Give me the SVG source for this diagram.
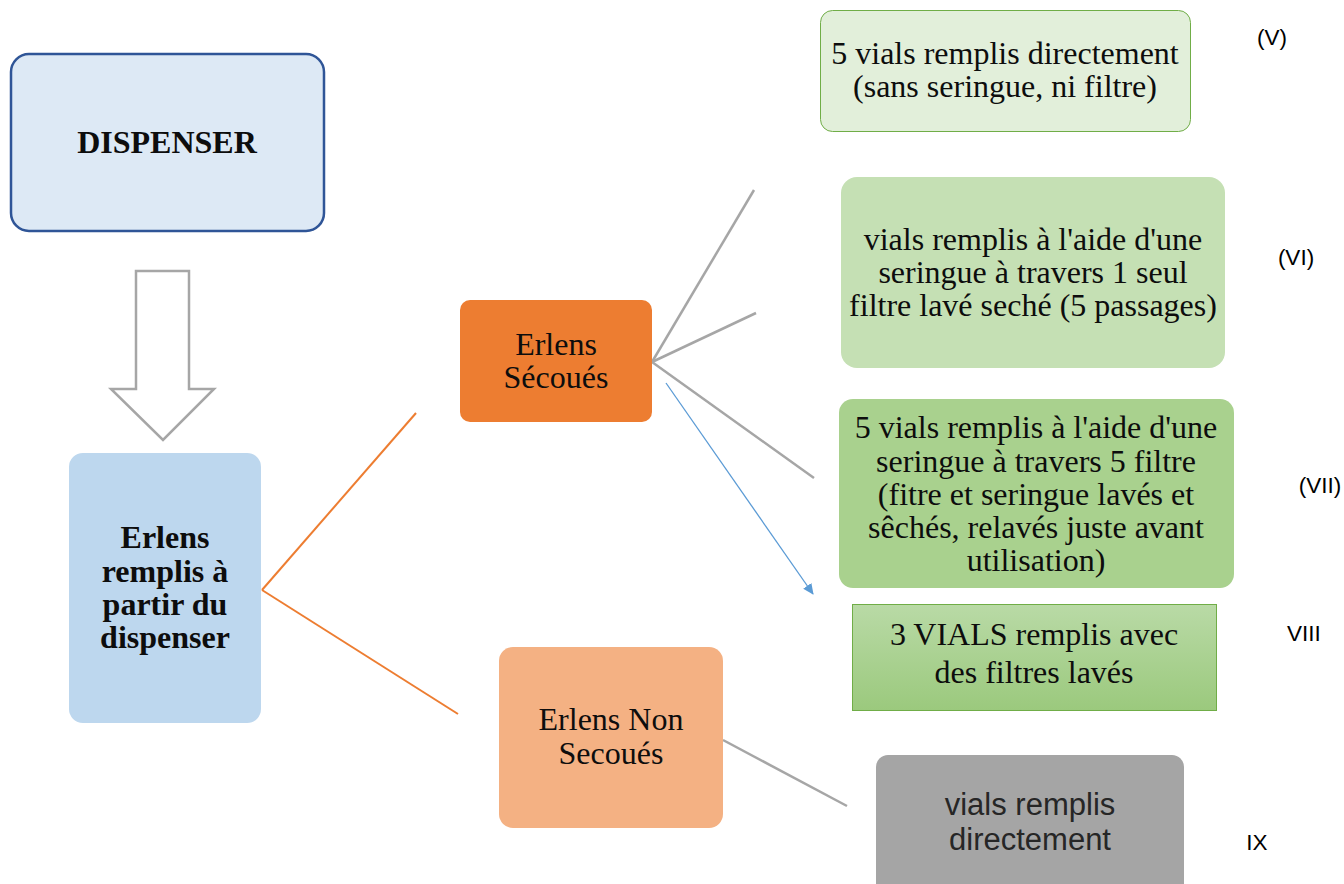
<svg xmlns="http://www.w3.org/2000/svg" width="1344" height="884" viewBox="0 0 1344 884">
<style>
.t{font-family:"Liberation Serif","Times New Roman",serif;font-size:32px;fill:#0d0d0d;text-anchor:middle}
.b{font-weight:bold}
.s{font-family:"Liberation Sans",Arial,sans-serif;text-anchor:middle}
.lab{font-family:"Liberation Sans",Arial,sans-serif;font-size:22.5px;fill:#000;text-anchor:middle}
.g{stroke:#a6a6a6;stroke-width:2.5;fill:none}
.o{stroke:#ed7d31;stroke-width:2;fill:none}
</style>
<defs>
<linearGradient id="gr8" x1="0" y1="0" x2="0" y2="1">
<stop offset="0" stop-color="#b9daa6"/>
<stop offset="1" stop-color="#9bc97d"/>
</linearGradient>
<marker id="ab" markerWidth="12" markerHeight="12" refX="10" refY="5" orient="auto" markerUnits="userSpaceOnUse">
<path d="M0,0 L11,5 L0,10 z" fill="#5b9bd5"/>
</marker>
</defs>
<rect width="1344" height="884" fill="#fff"/>
<g id="connectors">
<path d="M136,271 H189 V389 H214 L163,440 L111,389 H136 Z" fill="#fff" stroke="#a6a6a6" stroke-width="2.5"/>
<line class="o" x1="262" y1="590" x2="416" y2="413"/>
<line class="o" x1="262" y1="590" x2="458" y2="714"/>
<line class="g" x1="652" y1="362" x2="754" y2="190"/>
<line class="g" x1="652" y1="362" x2="756" y2="313"/>
<line class="g" x1="652" y1="362" x2="814" y2="478"/>
<line x1="666" y1="383" x2="813" y2="594" stroke="#5b9bd5" stroke-width="1.3" marker-end="url(#ab)"/>
<line class="g" x1="723" y1="740" x2="847" y2="806"/>
</g>
<g id="dispenser">
<rect x="11" y="54" width="313" height="177" rx="18" fill="#dde9f5" stroke="#2f5597" stroke-width="2.5"/>
<text class="t b" x="167" y="153">DISPENSER</text>
</g>
<g id="erlens-remplis">
<rect x="69" y="453" width="192" height="270" rx="14" fill="#bdd7ee"/>
<text class="t b" x="165" y="548">Erlens</text>
<text class="t b" x="165" y="582">remplis à</text>
<text class="t b" x="165" y="615">partir du</text>
<text class="t b" x="165" y="648">dispenser</text>
</g>
<g id="erlens-secoues">
<rect x="460" y="300" width="192" height="122" rx="10" fill="#ed7d31"/>
<text class="t" x="556" y="355">Erlens</text>
<text class="t" x="556" y="388">Sécoués</text>
</g>
<g id="erlens-non-secoues">
<rect x="499" y="647" width="224" height="181" rx="14" fill="#f4b183"/>
<text class="t" x="611" y="730">Erlens Non</text>
<text class="t" x="611" y="764">Secoués</text>
</g>
<g id="node-v">
<rect x="820.5" y="10.5" width="370" height="121" rx="12" fill="#e2efda" stroke="#70ad47" stroke-width="1"/>
<text class="t" x="1005" y="64">5 vials remplis directement</text>
<text class="t" x="1005" y="97">(sans seringue, ni filtre)</text>
</g>
<g id="node-vi">
<rect x="841" y="177" width="384" height="191" rx="16" fill="#c5e0b4"/>
<text class="t" x="1033" y="250">vials remplis à l'aide d'une</text>
<text class="t" x="1033" y="283">seringue à travers 1 seul</text>
<text class="t" x="1033" y="316">filtre lavé seché (5 passages)</text>
</g>
<g id="node-vii">
<rect x="839" y="399" width="395" height="189" rx="14" fill="#a9d18e"/>
<text class="t" x="1036" y="438">5 vials remplis à l'aide d'une</text>
<text class="t" x="1036" y="472">seringue à travers 5 filtre</text>
<text class="t" x="1036" y="505">(fitre et seringue lavés et</text>
<text class="t" x="1036" y="538">sêchés, relavés juste avant</text>
<text class="t" x="1036" y="571">utilisation)</text>
</g>
<g id="node-viii">
<rect x="852.5" y="604.5" width="364" height="106" fill="url(#gr8)" stroke="#70ad47" stroke-width="1"/>
<text class="t" x="1034" y="645">3 VIALS remplis avec</text>
<text class="t" x="1034" y="683">des filtres lavés</text>
</g>
<g id="node-ix">
<rect x="876" y="755" width="308" height="140" rx="12" fill="#a5a5a5"/>
<text class="s" x="1030" y="815" font-size="31" fill="#262626">vials remplis</text>
<text class="s" x="1030" y="850" font-size="31" fill="#262626">directement</text>
</g>
<g id="labels">
<text class="lab" x="1272" y="45">(V)</text>
<text class="lab" x="1296" y="265">(VI)</text>
<text class="lab" x="1320" y="493">(VII)</text>
<text class="lab" x="1304" y="641">VIII</text>
<text class="lab" x="1257" y="850">IX</text>
</g>
</svg>
